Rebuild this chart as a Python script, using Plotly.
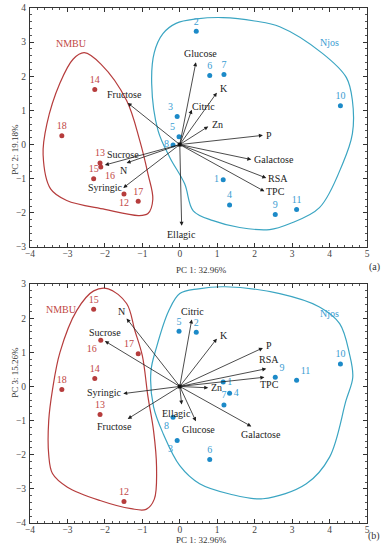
import plotly.graph_objects as go

# ---------------- data ----------------
samples = [str(i) for i in range(1, 19)]
groups = ["Njos"] * 11 + ["NMBU"] * 7
pc1 = [1.16, 0.44, -0.07, 1.33, -0.02, 0.80, 1.18, -0.18, 2.55, 4.29, 3.12,
       -1.49, -2.13, -2.27, -2.30, -2.11, -1.11, -3.15]
pc2 = [-1.03, 3.32, 0.82, -1.77, 0.23, 2.02, 2.05, -0.01, -2.05, 1.14, -1.90,
       -1.45, -0.54, 1.61, -1.00, -0.66, -1.66, 0.26]
pc3 = [0.13, 1.59, -1.58, -0.20, 1.62, -2.14, -0.54, -0.90, 0.27, 0.66, 0.18,
       -3.37, -0.82, 0.23, 2.26, 1.35, 0.96, -0.09]

variables = ["Glucose", "K", "Citric", "Zn", "P", "Galactose", "RSA", "TPC",
             "Ellagic", "Fructose", "Sucrose", "N", "Syringic"]
load1 = [0.43, 0.99, 0.32, 0.76, 2.22, 1.91, 2.31, 2.26, 0.05, -1.39, -2.00, -1.42, -1.51]
load2 = [2.41, 1.52, 1.02, 0.53, 0.27, -0.44, -0.98, -1.37, -2.38, 1.22, -0.60, -0.54, -1.27]
load3 = [-1.02, 1.40, 1.96, -0.04, 1.13, -1.17, 0.52, 0.27, -0.53, -0.95, 1.33, 1.99, -0.21]

# group outlines (data coordinates)
nmbu_a_x = [-2.55, -2.10, -1.42, -1.07, -0.85, -0.72, -0.85, -1.10, -2.00, -3.02, -3.45, -3.65, -3.55, -3.20, -2.85]
nmbu_a_y = [2.69, 2.35, 1.29, 0.12, -0.86, -1.60, -2.02, -2.08, -1.90, -1.64, -1.30, -0.30, 0.60, 1.80, 2.50]
njos_a_x = [0.45, 1.15, 2.00, 2.67, 3.81, 4.45, 4.61, 4.61, 4.35, 3.73, 2.93, 2.40, 1.60, 0.89, 0.36, 0.13, -0.27, -0.58, -0.75, -0.68, -0.45, -0.10]
njos_a_y = [3.68, 3.72, 3.62, 3.45, 2.67, 1.96, 1.29, 0.32, -0.56, -1.85, -2.32, -2.49, -2.43, -2.23, -1.94, -1.15, -0.37, 0.41, 1.78, 2.70, 3.25, 3.55]
nmbu_b_x = [-1.91, -1.42, -1.20, -1.00, -0.85, -0.70, -0.62, -0.68, -0.90, -1.30, -2.13, -3.00, -3.40, -3.50, -3.50, -3.40, -3.20, -2.75, -2.30]
nmbu_b_y = [2.86, 2.43, 1.64, 0.90, -0.30, -1.30, -2.37, -3.30, -3.60, -3.58, -3.34, -2.95, -2.55, -2.00, -1.00, -0.10, 1.00, 2.23, 2.80]
njos_b_x = [0.00, 0.50, 1.20, 2.67, 3.73, 4.27, 4.53, 4.62, 4.44, 4.00, 3.38, 2.22, 1.33, 0.53, 0.00, -0.44, -0.70, -0.77, -0.62, -0.30]
njos_b_y = [2.72, 2.86, 2.92, 2.72, 2.33, 1.84, 0.96, 0.27, -0.41, -2.07, -2.85, -3.29, -3.15, -2.85, -2.32, -1.39, -0.60, 0.45, 1.15, 2.20]

x_ticks = [-4, -3, -2, -1, 0, 1, 2, 3, 4, 5]
y_ticks_a = [-3, -2, -1, 0, 1, 2, 3, 4]
y_ticks_b = [-4, -3, -2, -1, 0, 1, 2, 3]

# ---------------- styles ----------------
FONT = "Liberation Serif"
RED = "#b63c3c"
RED_TXT = "#bf4745"
BLUE_DOT = "#1c8ac8"
BLUE_TXT = "#3a9dd2"
BLUE_LINE = "#3aa5c2"
ARROW = "#1e1e1e"

pos_a = {"1": "middle left", "3": "top left", "5": "top left", "8": "middle left",
         "12": "bottom center", "16": "bottom right"}
pos_b = {"1": "middle right", "3": "bottom left", "4": "middle right", "8": "bottom left",
         "9": "top right", "11": "top right", "16": "bottom left", "17": "top left"}

lab_a = {"Glucose": ("center", "bottom", 5, 1), "K": ("left", "middle", 1, 4),
         "Citric": ("left", "middle", -2, 3), "Zn": ("left", "middle", 2, 2),
         "P": ("left", "middle", 1, 0), "Galactose": ("left", "middle", 1, 0),
         "RSA": ("left", "middle", 0, 0), "TPC": ("left", "middle", 0, 0),
         "Ellagic": ("center", "top", 0, -1), "Fructose": ("center", "bottom", -3, 1),
         "Sucrose": ("left", "bottom", 0, 3), "N": ("right", "top", 2, 0),
         "Syringic": ("right", "middle", 1, 0)}
lab_b = {"Glucose": ("center", "top", 3, -1), "K": ("left", "middle", 1, 3),
         "Citric": ("center", "bottom", 1, 1), "Zn": ("left", "middle", 1, 0),
         "P": ("left", "middle", 1, 2), "Galactose": ("center", "top", 10, -1),
         "RSA": ("center", "bottom", 3, 2), "TPC": ("center", "top", 5, 0),
         "Ellagic": ("center", "top", -5, -1), "Fructose": ("center", "top", -13, 0),
         "Sucrose": ("center", "bottom", 0, 1), "N": ("right", "bottom", 0, 0),
         "Syringic": ("right", "middle", 0, 1)}

fig = go.Figure()
annotations = []


def add_panel(xs, ys, lx, ly, outlines, pos, labs, xa, ya):
    for (ox, oy), col in outlines:
        fig.add_trace(go.Scatter(x=list(ox) + [ox[0]], y=list(oy) + [oy[0]], mode="lines",
                                 line=dict(color=col, width=1.2, shape="spline", smoothing=1.0),
                                 xaxis=xa, yaxis=ya, hoverinfo="skip", showlegend=False))
    for grp, dcol, tcol in (("Njos", BLUE_DOT, BLUE_TXT), ("NMBU", RED, RED_TXT)):
        idx = [i for i, g in enumerate(groups) if g == grp]
        fig.add_trace(go.Scatter(
            x=[xs[i] for i in idx], y=[ys[i] for i in idx],
            text=[samples[i] for i in idx], mode="markers+text",
            textposition=[pos.get(samples[i], "top center") for i in idx],
            marker=dict(color=dcol, size=5),
            textfont=dict(family=FONT, size=10, color=tcol),
            xaxis=xa, yaxis=ya, showlegend=False, hoverinfo="skip"))
    for v, a, b in zip(variables, lx, ly):
        annotations.append(dict(x=a, y=b, ax=0, ay=0, xref=xa, yref=ya, axref=xa, ayref=ya,
                                text="", showarrow=True, arrowhead=2, arrowsize=1.0,
                                arrowwidth=0.8, arrowcolor=ARROW, standoff=0, startstandoff=0))
        xan, yan, xs_, ys_ = labs[v]
        annotations.append(dict(x=a, y=b, xref=xa, yref=ya, text=v, showarrow=False,
                                xanchor=xan, yanchor=yan, xshift=xs_, yshift=ys_,
                                font=dict(family=FONT, size=10, color="#222")))
    fig.add_trace(go.Scatter(x=[0], y=[0], mode="markers", marker=dict(color="#111", size=4, symbol="square"),
                             xaxis=xa, yaxis=ya, showlegend=False, hoverinfo="skip"))


add_panel(pc1, pc2, load1, load2,
          [((nmbu_a_x, nmbu_a_y), RED), ((njos_a_x, njos_a_y), BLUE_LINE)],
          pos_a, lab_a, "x", "y")
add_panel(pc1, pc3, load1, load3,
          [((nmbu_b_x, nmbu_b_y), RED), ((njos_b_x, njos_b_y), BLUE_LINE)],
          pos_b, lab_b, "x2", "y2")

# group labels
annotations += [
    dict(x=-2.89, y=2.97, xref="x", yref="y", text="NMBU", showarrow=False,
         font=dict(family=FONT, size=10, color=RED_TXT)),
    dict(x=4.0, y=2.99, xref="x", yref="y", text="Njos", showarrow=False,
         font=dict(family=FONT, size=10, color=BLUE_TXT)),
    dict(x=-3.15, y=2.26, xref="x2", yref="y2", text="NMBU", showarrow=False,
         font=dict(family=FONT, size=10, color=RED_TXT)),
    dict(x=4.0, y=2.13, xref="x2", yref="y2", text="Njos", showarrow=False,
         font=dict(family=FONT, size=10, color=BLUE_TXT)),
]

# axis titles and panel tags
tf = dict(family=FONT, size=9, color="#333")
annotations += [
    dict(x=0.508, y=0.491, xref="paper", yref="paper", text="PC 1: 32.96%", showarrow=False, font=tf),
    dict(x=0.508, y=-0.046, xref="paper", yref="paper", text="PC 1: 32.96%", showarrow=False, font=tf),
    dict(x=-0.064, y=0.779, xref="paper", yref="paper", text="PC 2: 19.18%", showarrow=False,
         textangle=-90, font=tf),
    dict(x=-0.064, y=0.239, xref="paper", yref="paper", text="PC 3: 15.26%", showarrow=False,
         textangle=-90, font=tf),
    dict(x=1.045, y=0.497, xref="paper", yref="paper", text="(a)", showarrow=False,
         xanchor="right", font=dict(family=FONT, size=10, color="#333")),
    dict(x=1.045, y=-0.041, xref="paper", yref="paper", text="(b)", showarrow=False,
         xanchor="right", font=dict(family=FONT, size=10, color="#333")),
]

axis_common = dict(showgrid=False, zeroline=False, showline=True, linecolor="#333", linewidth=1,
                   mirror="allticks", ticks="inside", ticklen=4, tickcolor="#333",
                   minor=dict(ticks="inside", ticklen=2, dtick=0.2, tickcolor="#555"),
                   tickfont=dict(family=FONT, size=9.5, color="#444"))

fig.update_layout(
    width=385, height=550,
    margin=dict(l=30, r=18, t=8, b=27, autoexpand=False),
    paper_bgcolor="white", plot_bgcolor="white",
    xaxis=dict(domain=[0, 1], range=[-4, 5], tickvals=x_ticks, anchor="y",
               ticklabelstandoff=-2, **axis_common),
    yaxis=dict(domain=[0.536, 1], range=[-3, 4], tickvals=y_ticks_a, anchor="x",
               ticklabelstandoff=1, **axis_common),
    xaxis2=dict(domain=[0, 1], range=[-4, 5], tickvals=x_ticks, anchor="y2",
                ticklabelstandoff=-2, **axis_common),
    yaxis2=dict(domain=[0, 0.464], range=[-4, 3], tickvals=y_ticks_b, anchor="x2",
                ticklabelstandoff=1, **axis_common),
    annotations=annotations,
    showlegend=False,
)

fig.write_html("out.html", config={"displayModeBar": False},
               post_script="document.body.style.margin='0px';document.body.style.overflow='hidden';")
